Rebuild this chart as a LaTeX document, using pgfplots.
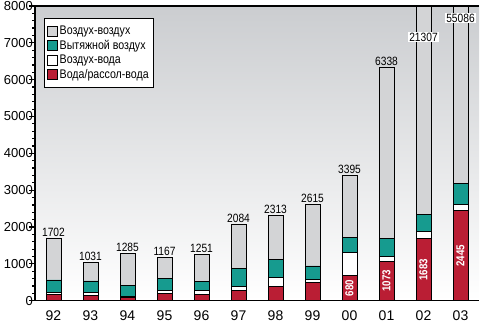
\documentclass[border=0pt]{standalone}
\usepackage{fontspec}
\setmainfont{Liberation Sans}
\newfontfamily\narrow{Liberation Sans}[FakeStretch=0.85]
\usepackage{pgfplots}
\usetikzlibrary{calc}
\pgfplotsset{compat=1.18}
\definecolor{cgray}{RGB}{211,212,214}
\definecolor{cteal}{RGB}{22,155,143}
\definecolor{cred}{RGB}{186,30,52}
\definecolor{bgtop}{RGB}{203,205,208}

\pgfplotstableread{
x red white teal gray total
0 174 43 345 1140 1702
1 147 70 318 496 1031
2 100 20 298 867 1285
3 200 82 326 559 1167
4 174 98 255 724 1251
5 282 98 500 1204 2084
6 380 256 489 1188 2313
7 500 80 363 1672 2615
8 680 635 407 1673 3395
9 1073 133 489 4643 6338
10 1683 192 473 18959 21307
11 2445 165 580 51896 55086
}\data

\begin{document}
\begin{tikzpicture}
\begin{axis}[
  name=ax,
  scale only axis,
  width=444pt, height=294.7pt,
  xmin=-0.5, xmax=11.5,
  ymin=0, ymax=8000,
  ybar stacked,
  bar width=15pt,
  axis x line*=bottom,
  axis y line*=left,
  axis line style={-, line width=1.5pt, black},
  axis background/.style={shade, top color=bgtop, bottom color=white},
  xtick={0,...,11},
  xticklabels={92,93,94,95,96,97,98,99,00,01,02,03},
  major x tick style={draw=none},
  extra x ticks={0.5,1.5,...,11.5},
  extra x tick labels={},
  extra x tick style={major tick length=5pt, tick style={line width=1.5pt, black}},
  ytick={0,1000,...,8000},
  minor y tick num=4,
  tick align=outside,
  major tick length=6pt,
  minor tick length=3pt,
  every tick/.style={line width=1.2pt, black},
  y tick label style={font=\fontsize{13}{13}\selectfont, inner xsep=0pt, xshift=4pt},
  x tick label style={font=\fontsize{14}{14}\selectfont, yshift=-1pt},
  /pgf/number format/assume math mode=true,
  scaled y ticks=false,
  yticklabel style={/pgf/number format/1000 sep={}},
  legend style={at={(0.02,0.96)}, anchor=north west, draw=black, line width=0.6pt,
    fill=white, font=\narrow\fontsize{12.5}{12.5}\selectfont,
    inner xsep=3pt, inner ysep=6pt, row sep=0pt, cells={anchor=west}},
  legend image code/.code={\draw[#1, draw=black, line width=0.5pt] (0pt,-5pt) rectangle (10pt,5pt);},
  reverse legend,
  every axis plot/.append style={draw=black, line width=0.7pt},
]
\addplot[fill=cred] table[x=x, y=red] {\data};
\addlegendentry{Вода/рассол-вода}
\addplot[fill=white] table[x=x, y=white] {\data};
\addlegendentry{Воздух-вода}
\addplot[fill=cteal] table[x=x, y=teal] {\data};
\addlegendentry{Вытяжной воздух}
\addplot[fill=cgray] table[x=x, y=gray] {\data};
\addlegendentry{Воздух-воздух}
\coordinate (t0) at (axis cs:0,1702);
\coordinate (t1) at (axis cs:1,1031);
\coordinate (t2) at (axis cs:2,1285);
\coordinate (t3) at (axis cs:3,1167);
\coordinate (t4) at (axis cs:4,1251);
\coordinate (t5) at (axis cs:5,2084);
\coordinate (t6) at (axis cs:6,2313);
\coordinate (t7) at (axis cs:7,2615);
\coordinate (t8) at (axis cs:8,3395);
\coordinate (t9) at (axis cs:9,6338);
\coordinate (t10) at (axis cs:10,7158);
\coordinate (t11) at (axis cs:11,7674);
\coordinate (r8) at (axis cs:8,340);
\coordinate (r9) at (axis cs:9,536);
\coordinate (r10) at (axis cs:10,841);
\coordinate (r11) at (axis cs:11,1222);
\end{axis}
\draw[line width=1.5pt] (ax.north west) -- (ax.north east);
\tikzset{tot/.style={anchor=south, inner sep=1.5pt, font=\narrow\fontsize{12}{12}\selectfont}}
\node[tot] at (t0) {1702};
\node[tot] at (t1) {1031};
\node[tot] at (t2) {1285};
\node[tot] at (t3) {1167};
\node[tot] at (t4) {1251};
\node[tot] at (t5) {2084};
\node[tot] at (t6) {2313};
\node[tot] at (t7) {2615};
\node[tot] at (t8) {3395};
\node[tot] at (t9) {6338};
\node[tot, anchor=center, fill=white, inner sep=1pt] at (t10) {21307};
\node[tot, anchor=center, fill=white, inner sep=1pt] at (t11) {55086};
\tikzset{rl/.style={rotate=90, text=white, font=\narrow\bfseries\fontsize{11.5}{11.5}\selectfont}}
\node[rl] at (r8) {680};
\node[rl] at (r9) {1073};
\node[rl] at (r10) {1683};
\node[rl] at (r11) {2445};
\pgfresetboundingbox
\path (ax.south west) ++(-35pt,-22.3pt) rectangle ($(ax.north east)+(2pt,6pt)$);
\end{tikzpicture}
\end{document}
